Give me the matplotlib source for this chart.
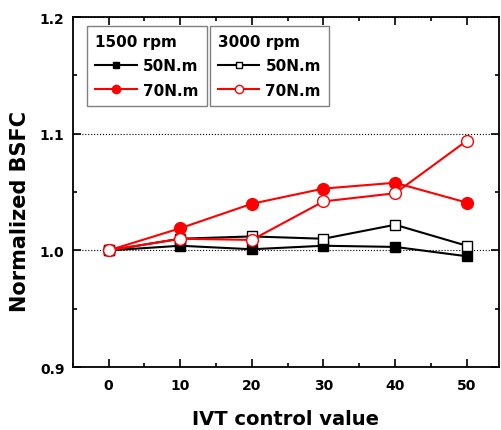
import numpy as np
import matplotlib
matplotlib.use("Agg")
import matplotlib.pyplot as plt
from matplotlib.ticker import MultipleLocator

ivt = [0, 10, 20, 30, 40, 50]
bsfc_1500_50 = [1.000, 1.004, 1.001, 1.004, 1.003, 0.995]
bsfc_1500_70 = [1.000, 1.019, 1.040, 1.053, 1.058, 1.041]
bsfc_3000_50 = [1.000, 1.010, 1.012, 1.010, 1.022, 1.004]
bsfc_3000_70 = [1.000, 1.010, 1.009, 1.042, 1.049, 1.094]

plt.rcParams['font.family'] = 'DejaVu Sans'
plt.rcParams['font.weight'] = 'bold'

fig = plt.figure(figsize=(5.02, 4.31), dpi=100)
ax = fig.add_axes([0.145, 0.146, 0.849, 0.812])

l1, = ax.plot(ivt, bsfc_1500_50, '-s', color='black', lw=1.5, ms=7,
              mfc='black', mec='black', zorder=3)
l3, = ax.plot(ivt, bsfc_3000_50, '-s', color='black', lw=1.5, ms=7,
              mfc='white', mec='black', zorder=4)
l2, = ax.plot(ivt, bsfc_1500_70, '-o', color='red', lw=1.5, ms=8.5,
              mfc='red', mec='red', zorder=5)
l4, = ax.plot(ivt, bsfc_3000_70, '-o', color='red', lw=1.5, ms=8.5,
              mfc='white', mec='red', zorder=6)

ax.set_xlim(-5, 54.5)
ax.set_ylim(0.9, 1.2)
ax.xaxis.set_major_locator(MultipleLocator(10))
ax.xaxis.set_minor_locator(MultipleLocator(5))
ax.yaxis.set_major_locator(MultipleLocator(0.1))
ax.yaxis.set_minor_locator(MultipleLocator(0.05))
ax.tick_params(which='both', direction='in', top=True, right=True,
               labelsize=10, width=1.2)
ax.tick_params(which='major', length=6)
ax.tick_params(which='minor', length=3)
ax.yaxis.set_major_formatter(matplotlib.ticker.FormatStrFormatter('%.1f'))
for lab in ax.get_xticklabels() + ax.get_yticklabels():
    lab.set_fontweight('bold')
ax.xaxis.set_tick_params(pad=8)
ax.yaxis.set_tick_params(pad=6)
ax.yaxis.grid(True, which='major', ls=':', color='black', lw=0.8)
for s in ax.spines.values():
    s.set_linewidth(1.3)

ax.set_xlabel('IVT control value', fontsize=14, fontweight='bold', labelpad=12)
ax.set_ylabel('Normalized BSFC', fontsize=15, fontweight='bold')
ax.yaxis.set_label_coords(-0.1, 0.446)

leg_kw = dict(fancybox=False, edgecolor='gray', framealpha=1, handlelength=2.7,
              prop={'weight': 'bold', 'size': 11},
              title_fontproperties={'weight': 'bold', 'size': 11},
              alignment='left', borderpad=0.55, labelspacing=0.6,
              handletextpad=0.4, borderaxespad=0, markerscale=0.7)
leg1 = ax.legend([l1, l2], ['50N.m', '70N.m'], title='1500 rpm',
                 loc='upper left', bbox_to_anchor=(0.033, 0.975), **leg_kw)
ax.add_artist(leg1)
leg2 = ax.legend([l3, l4], ['50N.m', '70N.m'], title='3000 rpm',
                 loc='upper left', bbox_to_anchor=(0.321, 0.975), **leg_kw)
leg1.set_zorder(10)
leg2.set_zorder(10)

fig.savefig('out.png', dpi=100)
